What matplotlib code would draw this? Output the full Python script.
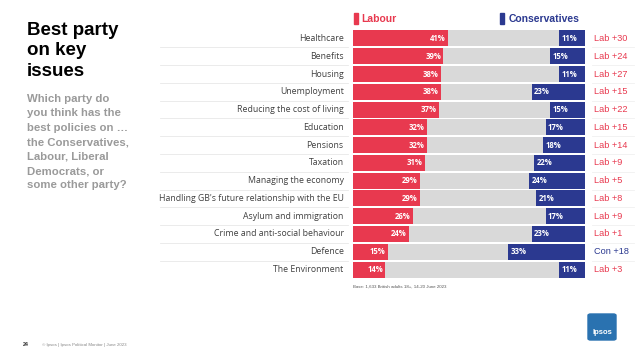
import matplotlib.pyplot as plt
from matplotlib.patches import Rectangle, FancyBboxPatch

# data
issues = ["Healthcare", "Benefits", "Housing", "Unemployment", "Reducing the cost of living",
          "Education", "Pensions", "Taxation", "Managing the economy",
          "Handling GB's future relationship with the EU", "Asylum and immigration",
          "Crime and anti-social behaviour", "Defence", "The Environment"]
labour = [41, 39, 38, 38, 37, 32, 32, 31, 29, 29, 26, 24, 15, 14]
conservatives = [11, 15, 11, 23, 15, 17, 18, 22, 24, 21, 17, 23, 33, 11]
leads = ["Lab +30", "Lab +24", "Lab +27", "Lab +15", "Lab +22", "Lab +15", "Lab +14",
         "Lab +9", "Lab +5", "Lab +8", "Lab +9", "Lab +1", "Con +18", "Lab +3"]

RED = "#e8394f"
BLUE = "#2b3990"
GREY = "#d9d9d9"

W, H = 641, 360
fig = plt.figure(figsize=(W / 100, H / 100), dpi=100)

# bar area in pixels
x0, x1 = 353, 585
ytop, ybot = 29.6, 278.4
ax = fig.add_axes([x0 / W, 1 - ybot / H, (x1 - x0) / W, (ybot - ytop) / H])
ax.set_xlim(0, 100)
ax.set_ylim(len(issues) - 0.5, -0.5)
ax.axis("off")

n = len(issues)
for i in range(n):
    lab, con = labour[i], conservatives[i]
    ax.barh(i, 100, height=0.9, color=GREY)
    ax.barh(i, lab, height=0.9, color=RED)
    ax.barh(i, con, left=100 - con, height=0.9, color=BLUE)
    ax.text(lab - 1, i, f"{lab}%", ha="right", va="center", color="white",
            fontsize=5.6, fontweight="bold", family="Open Sans")
    ax.text(100 - con + 1, i, f"{con}%", ha="left", va="center", color="white",
            fontsize=5.6, fontweight="bold", family="Open Sans")
    ax.text(-4, i, issues[i], ha="right", va="center", color="#404040",
            fontsize=6.3, family="Open Sans", clip_on=False)
    lc = BLUE if leads[i].startswith("Con") else RED
    ax.text(104, i, leads[i], ha="left", va="center", color=lc,
            fontsize=6.6, family="Liberation Sans", clip_on=False)
    if i < n - 1:
        ax.plot([-83, -2], [i + 0.5, i + 0.5], color="#e8e8e8", lw=0.6, clip_on=False)
        ax.plot([103, 121], [i + 0.5, i + 0.5], color="#f0f0f0", lw=0.6, clip_on=False)

# legend
ax.add_patch(Rectangle((0.4, -1.45), 1.8, 0.62, color=RED, clip_on=False))
ax.text(3.6, -1.12, "Labour", color=RED, fontsize=7.5, fontweight="bold",
        family="Liberation Sans", va="center", ha="left", clip_on=False)
ax.add_patch(Rectangle((63.4, -1.45), 1.8, 0.62, color=BLUE, clip_on=False))
ax.text(67.2, -1.12, "Conservatives", color=BLUE, fontsize=7.5, fontweight="bold",
        family="Liberation Sans", va="center", ha="left", clip_on=False)

# titles
fig.text(27 / W, 1 - 22 / H, "Best party\non key\nissues", fontsize=13.5, fontweight="bold",
         family="Liberation Sans", va="top", ha="left", linespacing=1.25, color="black")
fig.text(27 / W, 1 - 94 / H,
         "Which party do\nyou think has the\nbest policies on \u2026\nthe Conservatives,\n"
         "Labour, Liberal\nDemocrats, or\nsome other party?",
         fontsize=8.2, fontweight="bold", family="Liberation Sans", va="top", ha="left",
         linespacing=1.55, color="#9a9a9a")

# notes
fig.text(353 / W, 1 - 287 / H, "Base: 1,633 British adults 18+, 14-20 June 2023",
         fontsize=3.2, color="#555555", family="Liberation Sans", va="center", ha="left")
fig.text(23 / W, 1 - 345 / H, "24", fontsize=3.8, fontweight="bold", color="#333333",
         family="Liberation Sans", va="center", ha="left")
fig.text(42 / W, 1 - 345 / H, "\u00a9 Ipsos | Ipsos Political Monitor | June 2023",
         fontsize=3.2, color="#888888", family="Liberation Sans", va="center", ha="left")

# logo
fig.patches.append(FancyBboxPatch((588 / W, 1 - 340 / H), 28 / W, 26 / H,
                                  boxstyle="round,pad=0,rounding_size=0.004",
                                  transform=fig.transFigure, color="#2a72b0"))
fig.text(602 / W, 1 - 333 / H, "Ipsos", fontsize=5.5, fontweight="bold", color="white",
         family="Liberation Sans", va="center", ha="center")

fig.savefig("out.png", dpi=100)
